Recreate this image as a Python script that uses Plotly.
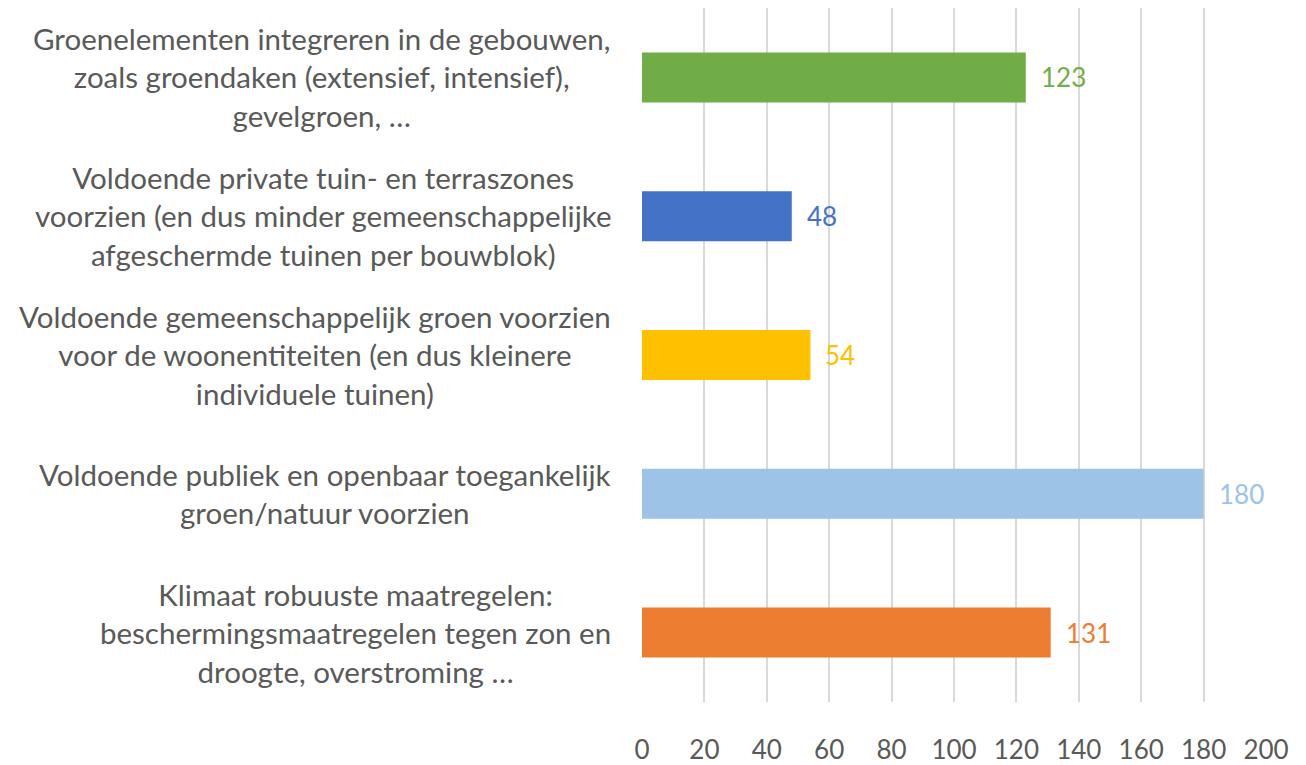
import plotly.graph_objects as go

categories = [
    "Groenelementen integreren in de gebouwen,<br>zoals groendaken (extensief, intensief),<br>gevelgroen, …",
    "Voldoende private tuin- en terraszones<br>voorzien (en dus minder gemeenschappelijke<br>afgeschermde tuinen per bouwblok)",
    "Voldoende gemeenschappelijk groen voorzien<br>voor de woonentiteiten (en dus kleinere<br>individuele tuinen)",
    "Voldoende publiek en openbaar toegankelijk<br>groen/natuur voorzien",
    "Klimaat robuuste maatregelen:<br>beschermingsmaatregelen tegen zon en<br>droogte, overstroming …",
]
values = [123, 48, 54, 180, 131]
colors = ["#70AD47", "#4472C4", "#FFC000", "#9DC3E6", "#ED7D31"]
tick_vals = [0, 20, 40, 60, 80, 100, 120, 140, 160, 180, 200]

FONT = "Lato"
TXT = "#595959"

fig = go.Figure()
fig.add_trace(go.Bar(
    x=values, y=list(range(len(categories))), orientation="h",
    marker=dict(color=colors, line=dict(width=0)), width=0.36,
    hoverinfo="skip",
))

annotations = []
for i, (cat, v, c) in enumerate(zip(categories, values, colors)):
    annotations.append(dict(
        x=v, y=i, xref="x", yref="y", text=str(v), showarrow=False,
        xanchor="left", yanchor="middle", xshift=13,
        font=dict(family=FONT, size=26, color=c),
    ))
    annotations.append(dict(
        x=-0.046, y=i, xref="paper", yref="y", text=cat, showarrow=False,
        xanchor="right", yanchor="middle", align="center",
        font=dict(family=FONT, size=29.5, color=TXT),
    ))

fig.update_layout(
    width=1298, height=757,
    margin=dict(l=634, r=40, t=0, b=57),
    paper_bgcolor="white", plot_bgcolor="white",
    showlegend=False,
    annotations=annotations,
    xaxis=dict(
        range=[0, 200], tickvals=tick_vals, showgrid=True, gridcolor="#D9D9D9",
        gridwidth=1.5, zeroline=False, showline=False,
        ticks="outside", ticklen=25, tickcolor="rgba(0,0,0,0)",
        tickfont=dict(family=FONT, size=26, color=TXT),
    ),
    yaxis=dict(
        range=[4.5, -0.5], showticklabels=False, showgrid=False,
        zeroline=False, showline=False,
    ),
)

fig.write_html("out.html")
